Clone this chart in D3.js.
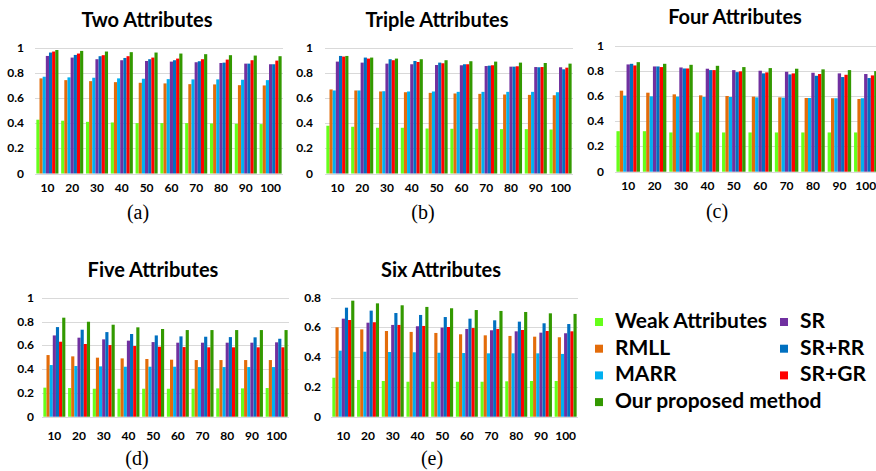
<!DOCTYPE html>
<html>
<head>
<meta charset="utf-8">
<script src="https://cdn.jsdelivr.net/npm/d3@7"></script>
<style>
  body { margin: 0; background: #fff; }
  svg { display: block; }
  .tick-label { font-family: Lato, "Open Sans", sans-serif; font-weight: bold; font-size: 12px; fill: #000; }
  .title { font-family: Lato, "Open Sans", sans-serif; font-weight: bold; font-size: 20px; fill: #000; }
  .letter { font-family: "Liberation Serif", "DejaVu Serif", serif; font-size: 20px; fill: #000; }
  .legend-text { font-family: Lato, "Open Sans", sans-serif; font-weight: bold; font-size: 21px; fill: #000; }
</style>
</head>
<body>
<script>
// number of training samples per class (x axis)
const categories = ["10", "20", "30", "40", "50", "60", "70", "80", "90", "100"];
const seriesNames = ["Weak Attributes", "RMLL", "MARR", "SR", "SR+RR", "SR+GR", "Our proposed method"];
const seriesColors = ["#66FF1A", "#E36C0A", "#00B0F0", "#7030A0", "#0070C0", "#FF0000", "#339900"];

// rows follow seriesNames order
const twoAttributes = [
  [0.427, 0.419, 0.410, 0.405, 0.400, 0.400, 0.400, 0.397, 0.395, 0.392],
  [0.755, 0.741, 0.733, 0.725, 0.720, 0.715, 0.709, 0.707, 0.701, 0.699],
  [0.768, 0.763, 0.760, 0.755, 0.752, 0.749, 0.747, 0.747, 0.744, 0.741],
  [0.933, 0.920, 0.907, 0.899, 0.893, 0.888, 0.883, 0.877, 0.872, 0.867],
  [0.960, 0.941, 0.931, 0.917, 0.907, 0.899, 0.891, 0.880, 0.872, 0.867],
  [0.968, 0.952, 0.939, 0.931, 0.920, 0.912, 0.907, 0.904, 0.899, 0.896],
  [0.980, 0.973, 0.968, 0.963, 0.960, 0.952, 0.947, 0.939, 0.936, 0.931]
];
const tripleAttributes = [
  [0.379, 0.371, 0.363, 0.363, 0.357, 0.355, 0.355, 0.352, 0.352, 0.349],
  [0.667, 0.659, 0.651, 0.645, 0.640, 0.635, 0.632, 0.627, 0.624, 0.621],
  [0.659, 0.659, 0.653, 0.651, 0.651, 0.648, 0.648, 0.648, 0.648, 0.645],
  [0.888, 0.880, 0.872, 0.867, 0.861, 0.859, 0.853, 0.848, 0.845, 0.843],
  [0.933, 0.920, 0.907, 0.893, 0.880, 0.867, 0.856, 0.848, 0.843, 0.827],
  [0.928, 0.912, 0.899, 0.885, 0.875, 0.867, 0.859, 0.851, 0.845, 0.840],
  [0.933, 0.920, 0.912, 0.907, 0.899, 0.891, 0.888, 0.880, 0.877, 0.872]
];
const fourAttributes = [
  [0.321, 0.321, 0.311, 0.311, 0.311, 0.311, 0.311, 0.311, 0.311, 0.311],
  [0.642, 0.626, 0.613, 0.605, 0.600, 0.595, 0.589, 0.584, 0.582, 0.576],
  [0.603, 0.597, 0.595, 0.592, 0.592, 0.589, 0.587, 0.584, 0.582, 0.582],
  [0.850, 0.834, 0.826, 0.816, 0.805, 0.800, 0.792, 0.784, 0.779, 0.774],
  [0.855, 0.834, 0.818, 0.805, 0.789, 0.779, 0.771, 0.760, 0.750, 0.742],
  [0.842, 0.829, 0.818, 0.805, 0.795, 0.787, 0.779, 0.774, 0.768, 0.763],
  [0.868, 0.855, 0.847, 0.839, 0.829, 0.821, 0.816, 0.811, 0.805, 0.797]
];
const fiveAttributes = [
  [0.244, 0.241, 0.235, 0.235, 0.235, 0.235, 0.235, 0.238, 0.238, 0.241],
  [0.518, 0.507, 0.496, 0.490, 0.485, 0.479, 0.476, 0.476, 0.476, 0.476],
  [0.434, 0.426, 0.423, 0.420, 0.420, 0.420, 0.417, 0.417, 0.417, 0.417],
  [0.683, 0.664, 0.650, 0.639, 0.627, 0.622, 0.622, 0.622, 0.622, 0.625],
  [0.753, 0.731, 0.711, 0.695, 0.683, 0.675, 0.672, 0.669, 0.667, 0.655],
  [0.630, 0.611, 0.602, 0.594, 0.588, 0.585, 0.583, 0.583, 0.583, 0.583],
  [0.832, 0.798, 0.773, 0.751, 0.737, 0.728, 0.728, 0.728, 0.728, 0.728]
];
const sixAttributes = [
  [0.262, 0.247, 0.240, 0.235, 0.235, 0.235, 0.235, 0.238, 0.240, 0.240],
  [0.601, 0.587, 0.576, 0.570, 0.563, 0.554, 0.547, 0.543, 0.538, 0.534],
  [0.444, 0.437, 0.435, 0.433, 0.430, 0.428, 0.426, 0.426, 0.426, 0.422],
  [0.659, 0.632, 0.617, 0.608, 0.599, 0.590, 0.581, 0.574, 0.565, 0.561],
  [0.733, 0.713, 0.697, 0.684, 0.670, 0.659, 0.648, 0.639, 0.628, 0.623],
  [0.650, 0.635, 0.617, 0.610, 0.603, 0.596, 0.590, 0.583, 0.576, 0.574],
  [0.780, 0.762, 0.749, 0.738, 0.729, 0.717, 0.711, 0.704, 0.695, 0.691]
];
const yTicksUnit = [0, 0.2, 0.4, 0.6, 0.8, 1];
const yTicksSix = [0, 0.2, 0.4, 0.6, 0.8];

// layout of the five panels (pixels)
const panels = [
  { title: "Two Attributes", letter: "(a)", data: twoAttributes, ticks: yTicksUnit, max: 1,
    x0: 35, x1: 283, yBase: 173.5, yTop: 47.5, labelRight: 24, titleX: 147, titleY: 27,
    tickY: 192, letterX: 138, letterY: 219 },
  { title: "Triple Attributes", letter: "(b)", data: tripleAttributes, ticks: yTicksUnit, max: 1,
    x0: 325, x1: 573, yBase: 173.5, yTop: 47.5, labelRight: 313, titleX: 437, titleY: 27,
    tickY: 192, letterX: 423, letterY: 219 },
  { title: "Four Attributes", letter: "(c)", data: fourAttributes, ticks: yTicksUnit, max: 1,
    x0: 615, x1: 879, yBase: 171.7, yTop: 45.5, labelRight: 604, titleX: 735, titleY: 24,
    tickY: 190, letterX: 717, letterY: 218 },
  { title: "Five Attributes", letter: "(d)", data: fiveAttributes, ticks: yTicksUnit, max: 1,
    x0: 42, x1: 289, yBase: 416.7, yTop: 297.7, labelRight: 34, titleX: 153, titleY: 277,
    tickY: 440, letterX: 137, letterY: 465 },
  { title: "Six Attributes", letter: "(e)", data: sixAttributes, ticks: yTicksSix, max: 0.8,
    x0: 331, x1: 578, yBase: 416.7, yTop: 297.7, labelRight: 321, titleX: 441, titleY: 277,
    tickY: 440, letterX: 432, letterY: 465 }
];

const W = 876, H = 471;
const svg = d3.select("body").append("svg").attr("width", W).attr("height", H);

panels.forEach(function(p) {
  const g = svg.append("g").attr("class", "panel");

  const x = d3.scaleBand().domain(categories).range([p.x0, p.x1])
    .paddingInner(0.11).paddingOuter(0.055);
  const xs = d3.scaleBand().domain(d3.range(seriesNames.length)).range([0, x.bandwidth()]);
  const y = d3.scaleLinear().domain([0, p.max]).range([p.yBase, p.yTop]);

  // gridlines
  g.selectAll("line.grid").data(p.ticks).enter().append("line")
    .attr("class", "grid")
    .attr("x1", p.x0).attr("x2", p.x1)
    .attr("y1", function(d) { return Math.round(y(d)) + 0.5; })
    .attr("y2", function(d) { return Math.round(y(d)) + 0.5; })
    .attr("stroke", "#D9D9D9").attr("stroke-width", 1);

  // y labels
  g.selectAll("text.ylab").data(p.ticks).enter().append("text")
    .attr("class", "tick-label ylab")
    .attr("x", p.labelRight)
    .attr("y", function(d) { return y(d) + 4; })
    .attr("text-anchor", "end")
    .text(function(d) { return d3.format("~g")(d); });

  // bars
  const groups = g.selectAll("g.cat").data(categories).enter().append("g")
    .attr("class", "cat")
    .attr("transform", function(d) { return "translate(" + x(d) + ",0)"; });
  groups.selectAll("rect").data(function(c, ci) {
      return seriesNames.map(function(s, si) { return { si: si, v: p.data[si][ci] }; });
    }).enter().append("rect")
    .attr("x", function(d) { return xs(d.si); })
    .attr("width", xs.bandwidth())
    .attr("y", function(d) { return y(d.v); })
    .attr("height", function(d) { return p.yBase - y(d.v); })
    .attr("fill", function(d) { return seriesColors[d.si]; });

  // x labels
  g.selectAll("text.xlab").data(categories).enter().append("text")
    .attr("class", "tick-label xlab")
    .attr("x", function(d) { return x(d) + x.bandwidth() / 2; })
    .attr("y", p.tickY)
    .attr("text-anchor", "middle")
    .text(function(d) { return d; });

  g.append("text").attr("class", "title")
    .attr("x", p.titleX).attr("y", p.titleY)
    .attr("text-anchor", "middle").text(p.title);

  g.append("text").attr("class", "letter")
    .attr("x", p.letterX).attr("y", p.letterY)
    .attr("text-anchor", "middle").text(p.letter);
});

// legend: two columns
const legendCols = [[0, 1, 2, 6], [3, 4, 5]];
const legendX = [595, 780];
const legendY0 = 328, legendStep = 26.7;
legendCols.forEach(function(col, ci) {
  const items = svg.append("g").selectAll("g").data(col).enter().append("g")
    .attr("transform", function(d, i) {
      return "translate(" + legendX[ci] + "," + (legendY0 + i * legendStep) + ")";
    });
  items.append("rect").attr("x", 0).attr("y", -10).attr("width", 8).attr("height", 8)
    .attr("fill", function(d) { return seriesColors[d]; });
  items.append("text").attr("class", "legend-text")
    .attr("x", 20).attr("y", 0)
    .text(function(d) { return seriesNames[d]; });
});
</script>
</body>
</html>
